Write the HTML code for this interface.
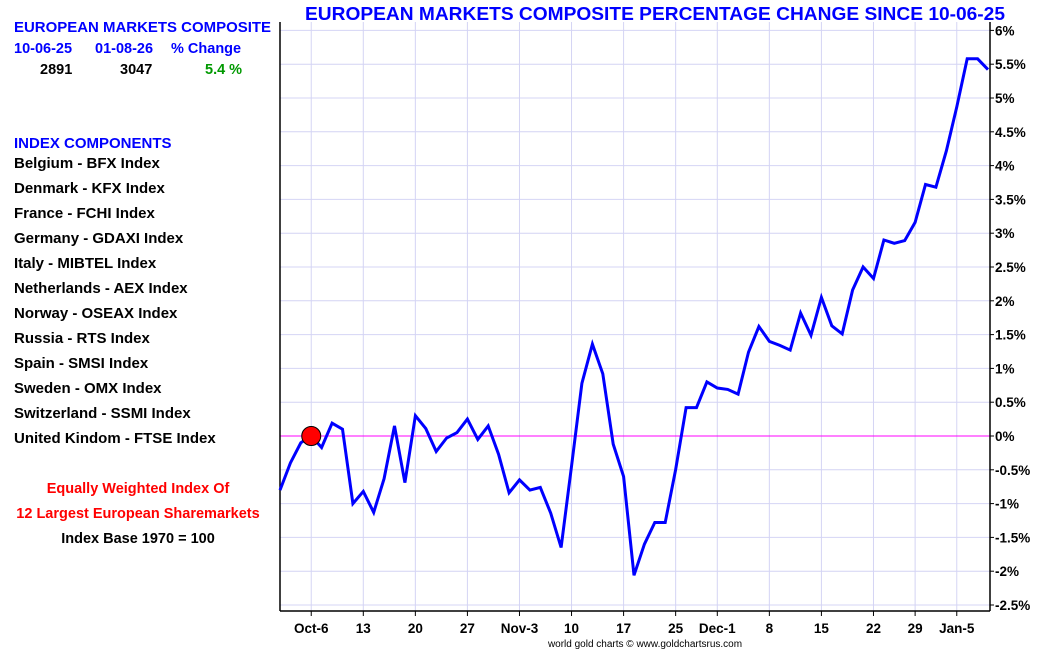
<!DOCTYPE html>
<html><head><meta charset="utf-8">
<style>
body{margin:0;background:#fff;width:1050px;height:650px;overflow:hidden;font-family:"Liberation Sans",Arial,sans-serif}
svg{position:absolute;left:0;top:0}
</style></head>
<body>
<svg id="chart" width="1050" height="650">
<g font-family="Liberation Sans, Arial, sans-serif" font-weight="bold">
<text x="305" y="20" font-size="18" fill="#0000ff" textLength="700" lengthAdjust="spacingAndGlyphs">EUROPEAN MARKETS COMPOSITE PERCENTAGE CHANGE SINCE 10-06-25</text>
<text x="14" y="32" font-size="15" fill="#0000ff" textLength="257" lengthAdjust="spacingAndGlyphs">EUROPEAN MARKETS COMPOSITE</text>
<text x="14" y="53" font-size="14.5" fill="#0000ff">10-06-25</text>
<text x="95" y="53" font-size="14.5" fill="#0000ff">01-08-26</text>
<text x="171" y="53" font-size="14.5" fill="#0000ff">% Change</text>
<text x="40" y="74" font-size="14.5" fill="#000">2891</text>
<text x="120" y="74" font-size="14.5" fill="#000">3047</text>
<text x="205" y="74" font-size="14.5" fill="#009900">5.4 %</text>
<text x="14" y="148" font-size="15" fill="#0000ff">INDEX COMPONENTS</text>
<g font-size="15" fill="#000" id="comps"></g>
<text x="138" y="493" font-size="14.5" fill="#ff0000" text-anchor="middle">Equally Weighted Index Of</text>
<text x="138" y="518" font-size="14.5" fill="#ff0000" text-anchor="middle">12 Largest European Sharemarkets</text>
<text x="138" y="543" font-size="14.5" fill="#000" text-anchor="middle">Index Base 1970 = 100</text>
<text x="645" y="647" font-size="10" font-weight="normal" fill="#000" text-anchor="middle">world gold charts © www.goldchartsrus.com</text>
</g>
<g id="grid"></g>
<g id="axes"></g>
<g id="series"></g>
</svg>
<script>
const components=["Belgium - BFX Index","Denmark - KFX Index","France - FCHI Index","Germany - GDAXI Index","Italy - MIBTEL Index","Netherlands - AEX Index","Norway - OSEAX Index","Russia - RTS Index","Spain - SMSI Index","Sweden - OMX Index","Switzerland - SSMI Index","United Kindom - FTSE Index"];
const values=[-0.8,-0.4,-0.1,0,-0.17,0.19,0.1,-1.0,-0.82,-1.13,-0.63,0.15,-0.69,0.3,0.11,-0.23,-0.03,0.05,0.25,-0.05,0.15,-0.27,-0.84,-0.65,-0.8,-0.76,-1.14,-1.65,-0.45,0.78,1.36,0.92,-0.12,-0.6,-2.06,-1.6,-1.28,-1.28,-0.5,0.42,0.42,0.8,0.71,0.69,0.62,1.24,1.62,1.4,1.34,1.27,1.82,1.49,2.05,1.63,1.51,2.16,2.5,2.33,2.9,2.85,2.89,3.16,3.72,3.68,4.22,4.87,5.58,5.58,5.42];
const xLabels=["Oct-6","13","20","27","Nov-3","10","17","25","Dec-1","8","15","22","29","Jan-5"];
const xLabelIdx=[3,8,13,18,23,28,33,38,42,47,52,57,61,65];
const yTicks=[-2.5,-2,-1.5,-1,-0.5,0,0.5,1,1.5,2,2.5,3,3.5,4,4.5,5,5.5,6];
const baseIdx=3;
const NS="http://www.w3.org/2000/svg";
const L=280,R=990,T=22,B=611;
const X=i=>L+i*(988-L)/(values.length-1);
const Y=v=>436-v*67.6;
function mk(tag,attrs,parent,txt){const e=document.createElementNS(NS,tag);for(const k in attrs)e.setAttribute(k,attrs[k]);if(txt!==undefined)e.textContent=txt;parent.appendChild(e);return e;}
const comps=document.getElementById('comps');
components.forEach((c,i)=>{const t=mk('text',{x:14,y:168+i*25},comps,c);

});
const grid=document.getElementById('grid'),axes=document.getElementById('axes'),series=document.getElementById('series');
yTicks.forEach(v=>{const y=Y(v);
const g=mk('line',{x1:L,x2:R,y1:y,y2:y,stroke:'#d4d4f4','stroke-width':1},grid);


mk('line',{x1:R,x2:R+4,y1:y,y2:y,stroke:'#000'},axes);
const t=mk('text',{x:R+5,y:y+5,'font-size':13.5,'font-weight':'bold','font-family':'Liberation Sans, Arial, sans-serif',fill:'#000'},axes,v+'%');

});
xLabelIdx.forEach((idx,k)=>{const x=X(idx);
const g=mk('line',{x1:x,x2:x,y1:T,y2:B,stroke:'#d4d4f4','stroke-width':1},grid);


mk('line',{x1:x,x2:x,y1:B,y2:B+5,stroke:'#000'},axes);
const t=mk('text',{x:x,y:B+22,'font-size':13.5,'font-weight':'bold','font-family':'Liberation Sans, Arial, sans-serif','text-anchor':'middle',fill:'#000'},axes,xLabels[k]);

});
const zl=mk('line',{x1:L,x2:R,y1:Y(0),y2:Y(0),stroke:'#ff00ff','stroke-width':1},grid);


const la=mk('line',{x1:L,x2:L,y1:T,y2:B,stroke:'#000','stroke-width':1.5},axes);


const ra=mk('line',{x1:R,x2:R,y1:T,y2:B,stroke:'#000','stroke-width':1.5},axes);


const ba=mk('line',{x1:L,x2:R,y1:B,y2:B,stroke:'#000','stroke-width':1.5},axes);


const pts=values.map((v,i)=>X(i).toFixed(1)+','+Y(v).toFixed(1)).join(' ');
const pl=mk('polyline',{points:pts,fill:'none',stroke:'#0000ff','stroke-width':3,'stroke-linejoin':'miter'},series);


const c=mk('circle',{cx:X(baseIdx),cy:Y(values[baseIdx]),r:9.5,fill:'#ff0000',stroke:'#000','stroke-width':1},series);


</script>
</body></html>
